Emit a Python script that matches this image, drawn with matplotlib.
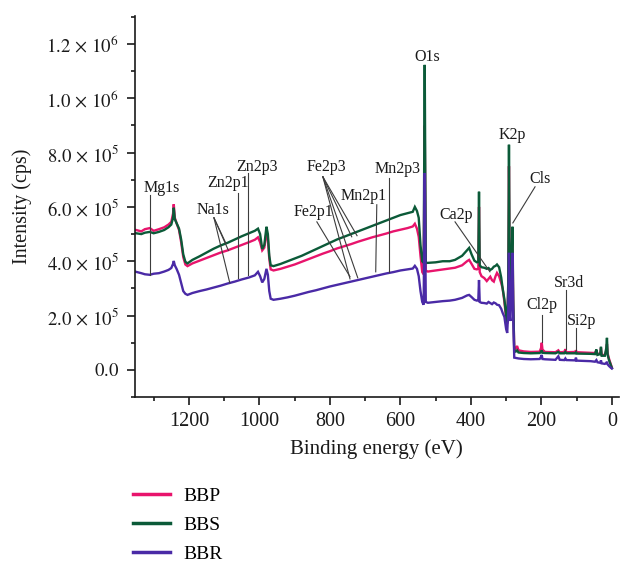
import math
import matplotlib
matplotlib.use('Agg')
import matplotlib.pyplot as plt
from matplotlib.lines import Line2D
from matplotlib.ticker import MultipleLocator, FuncFormatter

plt.rcParams['font.family'] = ['Liberation Serif', 'DejaVu Serif']
plt.rcParams['mathtext.fontset'] = 'stix'

# ---------------- data ----------------
series_names = ['BBP', 'BBS', 'BBR']

bbp_energy = [1350, 1335, 1325, 1311, 1300, 1285, 1270, 1258, 1250, 1245, 1243, 1240, 1235, 1228, 1222, 1216,
              1210, 1204, 1190, 1170, 1150, 1130, 1110, 1090, 1070, 1050, 1030, 1013, 1004, 998, 992, 986, 980,
              976, 972, 968, 960, 940, 920, 900, 880, 860, 840, 820, 800, 780, 760, 740, 720, 700, 680, 660,
              640, 620, 600, 580, 565, 559, 553, 548, 543, 538, 534, 531, 528, 522, 500, 480, 460, 445, 425,
              411, 405, 398, 390, 383, 379, 377, 375, 370, 362, 355, 350, 345, 340, 335, 330, 326, 320, 314,
              310, 305, 300, 297, 294, 292, 290, 288, 286, 282, 280, 277, 272, 269, 265, 250, 230, 205, 201,
              199, 197, 190, 160, 152, 148, 135, 132, 129, 104, 102, 100, 60, 48, 44, 41, 33, 31, 29, 20, 16,
              14, 12, 8, 3, 0]
bbp_counts = [515000, 510000, 518000, 522000, 512000, 518000, 525000, 535000, 545000, 575000, 610000, 560000,
              540000, 515000, 470000, 415000, 388000, 382000, 392000, 402000, 412000, 422000, 432000, 440000,
              450000, 460000, 470000, 479000, 488000, 470000, 440000, 450000, 505000, 480000, 410000, 370000,
              366000, 372000, 380000, 388000, 398000, 408000, 418000, 428000, 437000, 447000, 455000, 463000,
              472000, 480000, 488000, 495000, 502000, 510000, 516000, 522000, 528000, 538000, 520000, 490000,
              420000, 360000, 352000, 900000, 365000, 362000, 366000, 370000, 373000, 376000, 385000, 400000,
              405000, 390000, 372000, 370000, 372000, 600000, 360000, 345000, 338000, 327000, 335000, 343000,
              330000, 325000, 345000, 357000, 345000, 320000, 300000, 250000, 190000, 170000, 300000, 750000,
              350000, 250000, 330000, 480000, 250000, 75000, 80000, 88000, 72000, 68000, 66000, 67000, 80000,
              100000, 75000, 66000, 65000, 72000, 65000, 66000, 76000, 65000, 66000, 72000, 65000, 63000,
              62000, 72000, 58000, 60000, 80000, 55000, 55000, 70000, 95000, 60000, 40000, 20000, 8000]

bbs_energy = bbp_energy
bbs_counts = [503000, 500000, 505000, 508000, 503000, 508000, 515000, 525000, 535000, 560000, 597000, 555000,
              540000, 520000, 480000, 425000, 398000, 392000, 405000, 418000, 432000, 446000, 458000, 468000,
              480000, 492000, 503000, 512000, 520000, 500000, 445000, 460000, 527000, 500000, 420000, 385000,
              382000, 390000, 400000, 410000, 420000, 432000, 444000, 456000, 468000, 480000, 490000, 500000,
              510000, 520000, 530000, 540000, 550000, 560000, 570000, 577000, 582000, 600000, 585000, 560000,
              460000, 400000, 394000, 1123000, 394000, 394000, 396000, 400000, 400000, 405000, 420000, 440000,
              449000, 425000, 402000, 396000, 398000, 656000, 385000, 378000, 376000, 372000, 375000, 368000,
              372000, 380000, 383000, 388000, 378000, 340000, 300000, 260000, 200000, 175000, 320000, 829000,
              380000, 300000, 360000, 527000, 260000, 66000, 68000, 72000, 64000, 62000, 61000, 62000, 66000,
              72000, 63000, 62000, 61000, 66000, 61000, 61000, 66000, 61000, 61000, 64000, 60000, 59000,
              58000, 75000, 55000, 58000, 85000, 52000, 52000, 80000, 118000, 55000, 35000, 18000, 7000]

bbr_energy = bbp_energy
bbr_counts = [361000, 356000, 352000, 350000, 354000, 356000, 362000, 368000, 375000, 390000, 401000, 385000,
              372000, 350000, 320000, 290000, 280000, 276000, 283000, 290000, 296000, 303000, 310000, 318000,
              325000, 333000, 340000, 348000, 361000, 345000, 322000, 335000, 372000, 350000, 290000, 262000,
              258000, 262000, 267000, 273000, 280000, 287000, 293000, 300000, 307000, 313000, 319000, 325000,
              331000, 337000, 343000, 349000, 355000, 360000, 366000, 370000, 373000, 383000, 372000, 345000,
              290000, 250000, 240000, 725000, 250000, 247000, 250000, 253000, 255000, 258000, 265000, 274000,
              276000, 268000, 258000, 255000, 256000, 331000, 250000, 247000, 246000, 244000, 250000, 246000,
              242000, 248000, 245000, 240000, 238000, 225000, 210000, 195000, 150000, 136000, 220000, 431000,
              200000, 180000, 250000, 431000, 200000, 45000, 44000, 43000, 42000, 40000, 39000, 40000, 48000,
              55000, 40000, 39000, 37000, 50000, 37000, 36000, 42000, 36000, 35000, 45000, 34000, 32000,
              30000, 36000, 28000, 26000, 35000, 24000, 22000, 25000, 30000, 20000, 14000, 8000, 5000]

peak_labels = ['Mg1s', 'Na1s', 'Zn2p1', 'Zn2p3', 'Fe2p3', 'Fe2p1', 'Mn2p1', 'Mn2p3',
               'O1s', 'Ca2p', 'K2p', 'Cls', 'Cl2p', 'Sr3d', 'Si2p']

y_ticks = [0, 2e5, 4e5, 6e5, 8e5, 1.0e6, 1.2e6]
x_ticks = [1200, 1000, 800, 600, 400, 200, 0]

# ---------------- layout / style ----------------
colors = ['#e8146c', '#0b5a38', '#4a2aa6']
lead_color = '#3c3c3c'

# text position (eV, cps) and leader segments [(x0, y0, x1, y1), ...] for each label
label_layout = {
    'Mg1s':  ((1277, 670000), [(1311, 645000, 1311, 350000)]),
    'Na1s':  ((1132, 589000), [(1129, 560000, 1095, 466000), (1129, 560000, 1088, 440000),
                               (1129, 560000, 1084, 320000)]),
    'Zn2p1': ((1089, 689000), [(1061, 652000, 1061, 339000)]),
    'Zn2p3': ((1008, 748000), [(1033, 726000, 1033, 350000)]),
    'Fe2p3': ((811, 748000), [(820, 711000, 738, 490000), (820, 711000, 723, 494000),
                              (820, 711000, 743, 335000), (820, 711000, 721, 339000)]),
    'Fe2p1': ((848, 582000), [(837, 545000, 743, 343000)]),
    'Mn2p1': ((703, 641000), [(667, 608000, 670, 361000)]),
    'Mn2p3': ((607, 740000), [(633, 707000, 633, 361000)]),
    'O1s':   ((525, 1153000), []),
    'Ca2p':  ((443, 571000), [(445, 545000, 346, 361000)]),
    'K2p':   ((284, 866000), []),
    'Cls':   ((204, 703000), [(218, 674000, 281, 541000)]),
    'Cl2p':  ((199, 239000), [(199, 203000, 199, 103000)]),
    'Sr3d':  ((122, 320000), [(130, 295000, 130, 77000)]),
    'Si2p':  ((85, 180000), [(102, 155000, 102, 74000)]),
}

fig = plt.figure(figsize=(6.2, 5.63), dpi=100)
ax = fig.add_axes([0.2177, 0.2948, 0.7806, 0.6768])

for name, en, ct, c in zip(series_names,
                           [bbp_energy, bbs_energy, bbr_energy],
                           [bbp_counts, bbs_counts, bbr_counts], colors):
    ax.plot(en, ct, color=c, lw=1.7, label=name, solid_joinstyle='miter')

for lab in peak_labels:
    (tx, ty), segs = label_layout[lab]
    for x0, y0, x1, y1 in segs:
        ax.plot([x0, x1], [y0, y1], color=lead_color, lw=0.8, zorder=5)
    ax.text(tx, ty, lab, ha='center', va='center', fontsize=11.5, color='#1a1a1a', zorder=6)

ax.set_xlim(1353, -20)
ax.set_ylim(-1.0e5, 1.303e6)
ax.set_xticks(x_ticks)
ax.xaxis.set_minor_locator(MultipleLocator(100))
ax.set_yticks(y_ticks)
ax.yaxis.set_minor_locator(MultipleLocator(1e5))


def yfmt(v, pos):
    if abs(v) < 1:
        return r'$0.0$'
    e = int(math.floor(math.log10(abs(v)) + 1e-9))
    m = v / 10 ** e
    return r'$%.1f\,\times\,10^{%d}$' % (m, e)


ax.yaxis.set_major_formatter(FuncFormatter(yfmt))

for s in ['top', 'right']:
    ax.spines[s].set_visible(False)
for s in ['left', 'bottom']:
    ax.spines[s].set_linewidth(1.2)
    ax.spines[s].set_color('#1a1a1a')

ax.tick_params(axis='both', which='major', direction='out', length=5.5, width=1.2,
               colors='#1a1a1a')
ax.tick_params(axis='y', which='major', labelsize=13.5, pad=6)
ax.tick_params(axis='x', which='major', labelsize=14.5, pad=5)
ax.tick_params(axis='both', which='minor', direction='out', length=3, width=1.2, colors='#1a1a1a')

ax.set_xlabel('Binding energy (eV)', fontsize=15, color='#1a1a1a')
ax.set_ylabel('Intensity (cps)', fontsize=14.5, color='#1a1a1a')
ax.xaxis.set_label_coords(0.498, -0.11)
ax.yaxis.set_label_coords(-0.212, 0.5)

handles = [Line2D([0], [0], color=c, lw=2.5) for c in colors]
fig.legend(handles, series_names, loc='upper left', bbox_to_anchor=(0.2145, 0.134),
           frameon=False, fontsize=14, handlelength=1.9, handletextpad=0.7,
           labelspacing=0.58, borderpad=0, borderaxespad=0)

fig.savefig('out.png', dpi=100)
